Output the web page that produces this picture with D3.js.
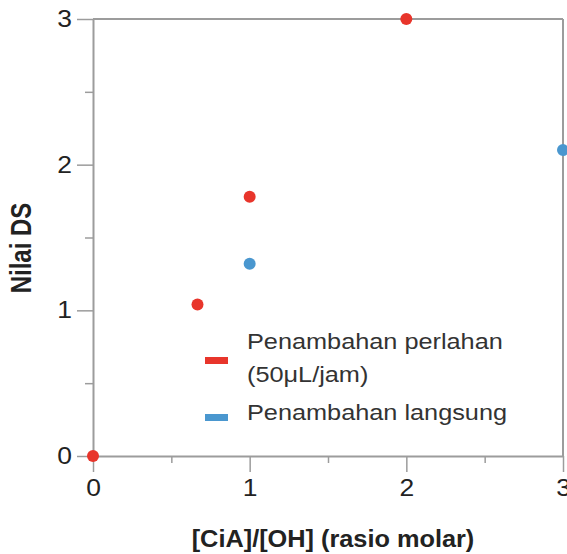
<!DOCTYPE html>
<html>
<head>
<meta charset="utf-8">
<script src="https://cdn.jsdelivr.net/npm/d3@7"></script>
<style>
  body { margin: 0; background: #fff; }
  text { font-family: "Liberation Sans", Arial, sans-serif; }
</style>
</head>
<body>
<div id="content"></div>
<script>
// data
const slowX = [0, 0.667, 1, 2];
const slowDS = [0, 1.04, 1.78, 3.0];
const directX = [1, 3];
const directDS = [1.32, 2.1];
const majorTicks = [0, 1, 2, 3];
const minorTicks = [0.5, 1.5, 2.5];
const legendLabels = [["Penambahan perlahan", "(50μL/jam)"], ["Penambahan langsung"]];
const colors = ["#e8352b", "#4a97cf"];

const W = 567, H = 554;
const margin = { top: 19, right: 4, bottom: 98, left: 93 };
const width = W - margin.left - margin.right;
const height = H - margin.top - margin.bottom;

// the original artwork is a bit wider than tall, so text is stretched a little
const stretch = 1.15;

const svg = d3.select("#content").append("svg")
  .attr("width", W)
  .attr("height", H);

const g = svg.append("g")
  .attr("transform", `translate(${margin.left},${margin.top})`);

const x = d3.scaleLinear().domain([0, 3]).range([0, width]);
const y = d3.scaleLinear().domain([0, 3]).range([height, 0]);

const axisColor = "#9c9c9c";

// frame top + right
g.append("line").attr("x1", 0).attr("x2", width).attr("y1", 0).attr("y2", 0)
  .attr("stroke", axisColor).attr("stroke-width", 2);
g.append("line").attr("x1", width).attr("x2", width).attr("y1", 0).attr("y2", height)
  .attr("stroke", axisColor).attr("stroke-width", 2);

function styleAxis(sel) {
  sel.select(".domain").attr("stroke", axisColor).attr("stroke-width", 2);
  sel.selectAll(".tick line").attr("stroke", axisColor).attr("stroke-width", 1.5);
  sel.selectAll(".tick text")
    .attr("fill", "#222")
    .style("font-size", "23px")
    .style("font-family", "'Liberation Sans', Arial, sans-serif");
}

// minor ticks
g.append("g")
  .attr("transform", `translate(0,${height})`)
  .call(d3.axisBottom(x).tickValues(minorTicks).tickSize(7).tickFormat(""))
  .call((s) => s.select(".domain").remove())
  .call(styleAxis);
g.append("g")
  .call(d3.axisLeft(y).tickValues(minorTicks).tickSize(8).tickFormat(""))
  .call((s) => s.select(".domain").remove())
  .call(styleAxis);

// major axes
g.append("g")
  .attr("class", "x-axis")
  .attr("transform", `translate(0,${height})`)
  .call(d3.axisBottom(x).tickValues(majorTicks).tickSize(16).tickPadding(8).tickSizeOuter(0).tickFormat(d3.format("d")))
  .call(styleAxis)
  .call((s) => s.selectAll(".tick text").attr("transform", `scale(${stretch},1)`));

g.append("g")
  .attr("class", "y-axis")
  .call(d3.axisLeft(y).tickValues(majorTicks).tickSize(16).tickPadding(5).tickSizeOuter(0).tickFormat(d3.format("d")))
  .call(styleAxis)
  .call((s) => s.selectAll(".tick text").attr("x", -21 / stretch).attr("transform", `scale(${stretch},1)`));

// axis labels
svg.append("text")
  .attr("transform", "translate(333,547) scale(1.055,1)")
  .attr("text-anchor", "middle")
  .attr("fill", "#222")
  .style("font-size", "24px")
  .style("font-weight", "bold")
  .text("[CiA]/[OH] (rasio molar)");

svg.append("text")
  .attr("transform", "translate(31,248) scale(1.2,1) rotate(-90)")
  .attr("text-anchor", "middle")
  .attr("fill", "#222")
  .style("font-size", "24px")
  .style("font-weight", "bold")
  .text("Nilai DS");

// points
const series = [
  { xs: slowX, ys: slowDS, color: colors[0] },
  { xs: directX, ys: directDS, color: colors[1] },
];

series.forEach((s) => {
  g.selectAll(null)
    .data(s.xs.map((v, i) => [v, s.ys[i]]))
    .enter()
    .append("circle")
    .attr("cx", (d) => x(d[0]))
    .attr("cy", (d) => y(d[1]))
    .attr("r", 6)
    .attr("fill", s.color);
});

// legend
const legend = svg.append("g").attr("transform", "translate(205,0)");
const legendRows = [
  { barY: 357, lines: [349, 382] },
  { barY: 414, lines: [420] },
];
legendRows.forEach((row, i) => {
  legend.append("rect")
    .attr("x", 0).attr("y", row.barY)
    .attr("width", 23).attr("height", 7)
    .attr("fill", colors[i]);
  row.lines.forEach((ly, j) => {
    legend.append("text")
      .attr("transform", `translate(42,${ly}) scale(${stretch},1)`)
      .attr("fill", "#333")
      .style("font-size", "22px")
      .text(legendLabels[i][j]);
  });
});
</script>
</body>
</html>
